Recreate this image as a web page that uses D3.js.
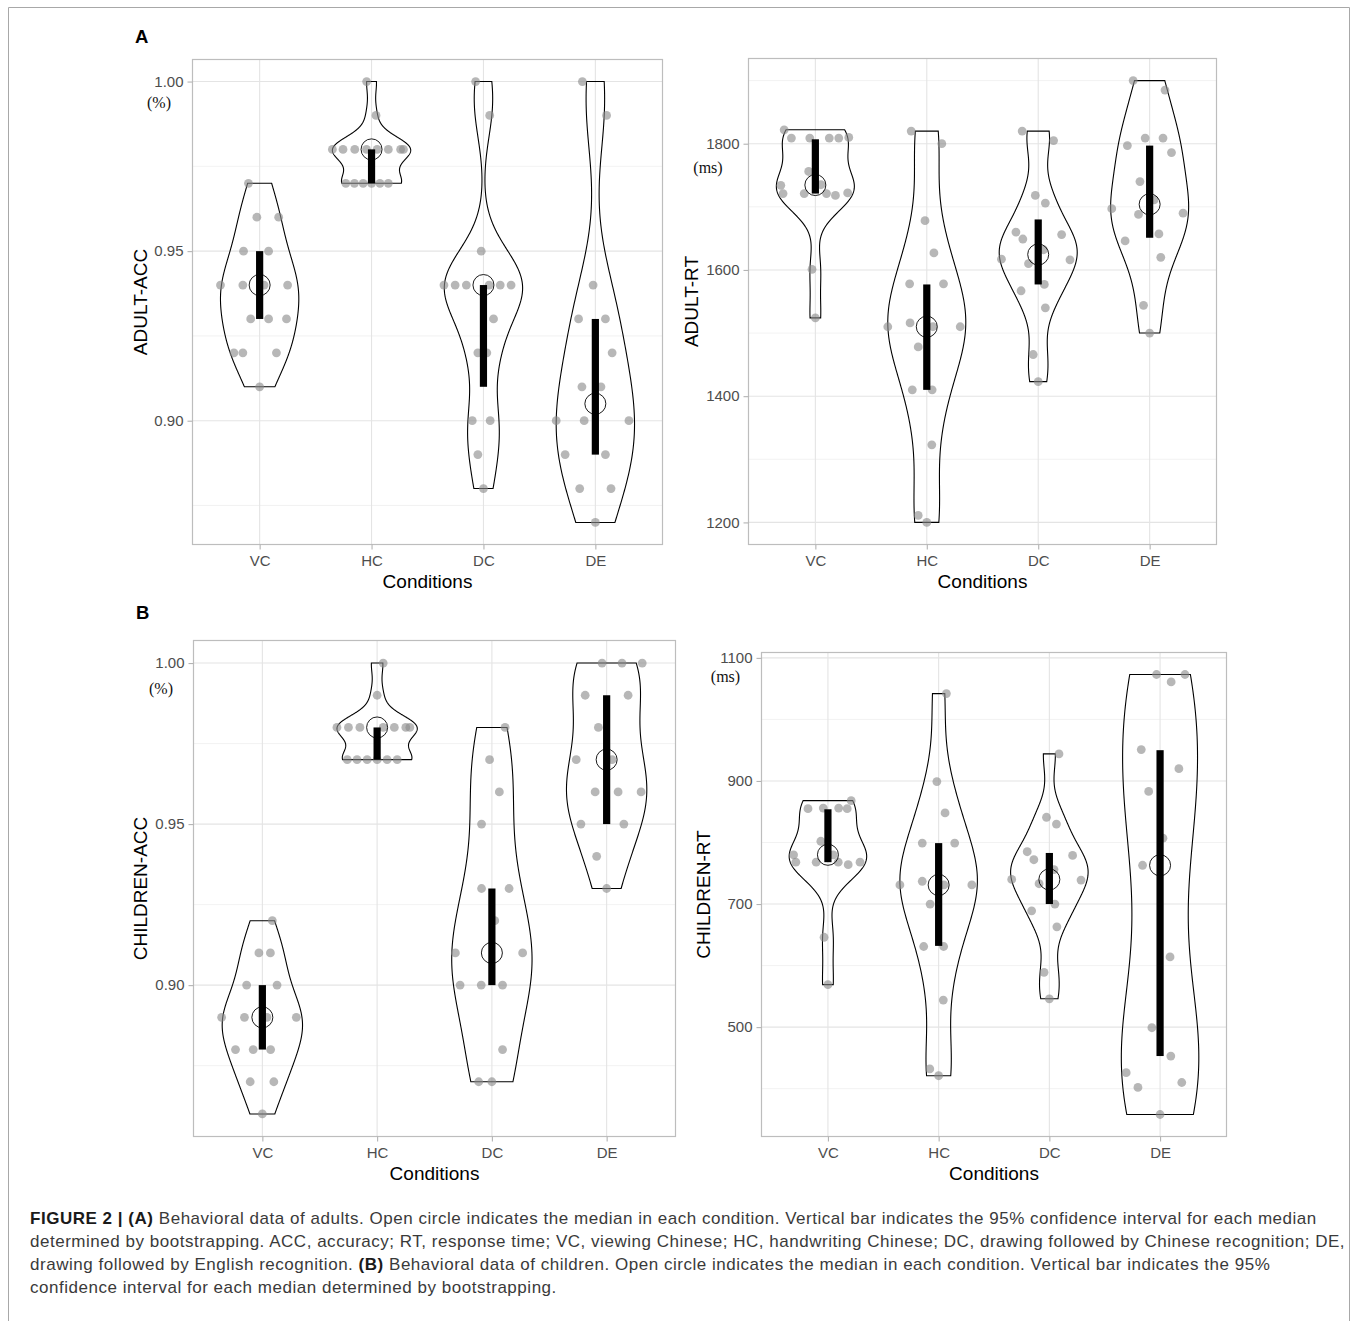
<!DOCTYPE html>
<html><head><meta charset="utf-8">
<script src="https://cdn.jsdelivr.net/npm/d3@7"></script>
<style>body{margin:0;background:#fff}svg{display:block}</style>
</head><body><svg id="c" width="1358" height="1321"></svg>
<script>
// ---------------- DATA ----------------
const categories = ["VC", "HC", "DC", "DE"];

// Adult accuracy
const adultAccVC = [0.97,0.96,0.96,0.95,0.95,0.94,0.94,0.94,0.94,0.93,0.93,0.93,0.92,0.92,0.92,0.91];
const adultAccHC = [1.00,0.99,0.98,0.98,0.98,0.98,0.98,0.98,0.98,0.98,0.97,0.97,0.97,0.97,0.97,0.97];
const adultAccDC = [1.00,0.99,0.95,0.94,0.94,0.94,0.94,0.94,0.94,0.93,0.92,0.92,0.90,0.90,0.89,0.88];
const adultAccDE = [1.00,0.99,0.94,0.93,0.93,0.92,0.91,0.91,0.90,0.90,0.90,0.89,0.89,0.88,0.88,0.87];
const adultAccCI = [[0.93,0.95],[0.97,0.98],[0.91,0.94],[0.89,0.93]];
// horizontal jitter of each point (fraction of category step)
const adultAccJitVC = [-0.10,-0.025,0.17,-0.144,0.08,-0.35,-0.15,0.04,0.25,-0.08,0.08,0.24,-0.23,-0.15,0.15,0];
const adultAccJitHC = [-0.044,0.04,-0.35,-0.255,-0.15,-0.045,0.05,0.15,0.26,0.285,-0.23,-0.153,-0.075,0,0.075,0.15];
const adultAccJitDC = [-0.07,0.056,-0.02,-0.353,-0.253,-0.153,0.05,0.15,0.247,0.09,-0.05,0.03,-0.10,0.06,-0.05,0];
const adultAccJitDE = [-0.116,0.10,-0.02,-0.15,0.09,0.15,-0.12,0.05,-0.35,-0.10,0.30,-0.27,0.09,-0.14,0.14,0];

// Adult response time (ms)
const adultRtVC = [1822,1809,1809,1809,1809,1810,1756,1734,1721,1721,1735,1721,1718,1722,1601,1524];
const adultRtHC = [1820,1800,1678,1627,1578,1578,1510,1516,1510,1510,1478,1410,1410,1323,1211,1200];
const adultRtDC = [1820,1805,1718,1706,1660,1649,1656,1632,1617,1610,1616,1567,1577,1540,1466,1423];
const adultRtDE = [1900,1885,1797,1809,1809,1786,1740,1697,1688,1711,1690,1657,1646,1620,1544,1500];
const adultRtCI = [[1721,1807],[1410,1577],[1577,1680],[1651,1797]];
const adultRtJitVC = [-0.28,-0.215,-0.05,0.125,0.21,0.30,-0.06,-0.31,-0.29,-0.10,0.05,0.10,0.18,0.29,-0.03,0];
const adultRtJitHC = [-0.14,0.135,-0.016,0.064,-0.154,0.15,-0.35,-0.15,0.055,0.30,-0.077,-0.13,0.048,0.045,-0.077,0];
const adultRtJitDC = [-0.144,0.138,-0.026,0.064,-0.2,-0.138,0.21,0.048,-0.33,-0.087,0.285,-0.154,0.055,0.064,-0.045,0];
const adultRtJitDE = [-0.148,0.138,-0.2,-0.04,0.12,0.196,-0.087,-0.34,-0.10,0.04,0.30,0.083,-0.22,0.10,-0.055,0];

// Children accuracy
const childAccVC = [0.92,0.91,0.91,0.90,0.90,0.89,0.89,0.89,0.89,0.88,0.88,0.88,0.87,0.87,0.86];
const childAccHC = [1.00,0.99,0.98,0.98,0.98,0.98,0.98,0.98,0.98,0.97,0.97,0.97,0.97,0.97,0.97];
const childAccDC = [0.98,0.97,0.96,0.95,0.93,0.93,0.92,0.91,0.91,0.90,0.90,0.90,0.88,0.87,0.87];
const childAccDE = [1.00,1.00,1.00,0.99,0.99,0.98,0.97,0.97,0.96,0.96,0.96,0.95,0.95,0.94,0.93];
const childAccCI = [[0.88,0.90],[0.97,0.98],[0.90,0.93],[0.95,0.99]];
const childAccJitVC = [0.087,-0.03,0.07,-0.137,0.128,-0.355,-0.156,0.04,0.296,-0.234,-0.08,0.072,-0.106,0.10,0];
const childAccJitHC = [0.053,0,-0.35,-0.25,-0.15,0.053,0.15,0.25,0.285,-0.26,-0.175,-0.087,0,0.087,0.175];
const childAccJitDC = [0.115,-0.02,0.065,-0.09,-0.09,0.15,0.025,-0.318,0.268,-0.277,-0.093,0.093,0.093,-0.115,0];
const childAccJitDE = [-0.04,0.134,0.31,-0.187,0.187,-0.072,-0.265,0.047,-0.10,0.10,0.30,-0.224,0.15,-0.087,0];

// Children response time (ms)
const childRtVC = [868,855,856,856,855,802,780,768,768,780,768,764,768,646,569];
const childRtHC = [1042,899,848,799,799,731,737,731,731,700,631,631,544,432,421];
const childRtDC = [944,841,830,785,772,779,740,733,756,739,700,689,663,589,546];
const childRtDE = [1073,1061,1073,951,920,883,807,763,614,499,453,426,402,410,358];
const childRtCI = [[768,854],[632,799],[700,783],[453,950]];
const childRtJitVC = [0.21,-0.18,-0.042,0.097,0.174,-0.064,-0.31,-0.29,-0.106,0.048,0.093,0.183,0.29,-0.035,0];
const childRtJitHC = [0.07,-0.016,0.058,-0.148,0.145,-0.35,-0.148,0.048,0.30,-0.077,-0.135,0.045,0.042,-0.08,0];
const childRtJitDC = [0.087,-0.026,0.064,-0.2,-0.14,0.21,-0.34,-0.093,0.042,0.286,0.05,-0.16,0.068,-0.048,0];
const childRtJitDE = [-0.032,0.10,0.225,-0.17,0.17,-0.103,0.026,-0.158,0.09,-0.074,0.097,-0.306,-0.2,0.196,0];

// tick labels
const accMajorTicks = [0.90, 0.95, 1.00];
const accMinorTicks = [0.875, 0.925, 0.975];
const adultRtMajorTicks = [1200, 1400, 1600, 1800];
const adultRtMinorTicks = [1300, 1500, 1700, 1900];
const childRtMajorTicks = [500, 700, 900, 1100];
const childRtMinorTicks = [400, 600, 800, 1000];

const captionLines = [
  [["FIGURE 2 | (A)", true], [" Behavioral data of adults. Open circle indicates the median in each condition. Vertical bar indicates the 95% confidence interval for each median", false]],
  [["determined by bootstrapping. ACC, accuracy; RT, response time; VC, viewing Chinese; HC, handwriting Chinese; DC, drawing followed by Chinese recognition; DE,", false]],
  [["drawing followed by English recognition. ", false], ["(B)", true], [" Behavioral data of children. Open circle indicates the median in each condition. Vertical bar indicates the 95%", false]],
  [["confidence interval for each median determined by bootstrapping.", false]]
];

// ---------------- DRAWING ----------------
const SANS = "'Liberation Sans', Arial, Helvetica, sans-serif";
const SERIF = "'Liberation Serif', 'Times New Roman', serif";
const svg = d3.select("#c");
svg.append("rect").attr("width", 1358).attr("height", 1321).attr("fill", "#fff");
svg.append("path").attr("d", "M8.5,1321V7.5H1349.5V1321")
  .attr("fill", "none").attr("stroke", "#a8a8a8").attr("stroke-width", 1);

function nrd0(v) {
  const s = d3.sort(v);
  const hi = d3.deviation(s);
  const iqr = d3.quantileSorted(s, 0.75) - d3.quantileSorted(s, 0.25);
  let lo = Math.min(hi, iqr / 1.34);
  if (!(lo > 0)) lo = hi || Math.abs(s[0]) || 1;
  return 0.9 * lo * Math.pow(s.length, -0.2);
}
function kde(v) {
  const bw = nrd0(v);
  const [mn, mx] = d3.extent(v);
  const N = 300, pts = [];
  for (let i = 0; i < N; i++) {
    const t = mn + (mx - mn) * i / (N - 1);
    let d = 0;
    for (const x of v) { const z = (t - x) / bw; d += Math.exp(-0.5 * z * z); }
    pts.push({ v: t, d });
  }
  const m = d3.max(pts, p => p.d);
  pts.forEach(p => p.w = p.d / m);
  return pts;
}

function drawPanel(cfg) {
  const g = svg.append("g");
  const all = cfg.series.flat();
  const [mn, mx] = d3.extent(all);
  const pad = (mx - mn) * 0.05;
  const y = d3.scaleLinear().domain([mn - pad, mx + pad]).range([cfg.bottom, cfg.top]);
  const x = d3.scalePoint().domain(categories).range([cfg.left, cfg.right]).padding(0.6);
  const step = x.step();

  // grid
  g.selectAll(".mi").data(cfg.minor).join("line")
    .attr("x1", cfg.left).attr("x2", cfg.right)
    .attr("y1", d => y(d)).attr("y2", d => y(d))
    .attr("stroke", "#efefef").attr("stroke-width", 0.8);
  g.selectAll(".ma").data(cfg.major).join("line")
    .attr("x1", cfg.left).attr("x2", cfg.right)
    .attr("y1", d => y(d)).attr("y2", d => y(d))
    .attr("stroke", "#e4e4e4").attr("stroke-width", 1.1);
  g.selectAll(".vx").data(categories).join("line")
    .attr("x1", d => x(d)).attr("x2", d => x(d))
    .attr("y1", cfg.top).attr("y2", cfg.bottom)
    .attr("stroke", "#e4e4e4").attr("stroke-width", 1.1);

  // violins
  categories.forEach((c, i) => {
    const dens = kde(cfg.series[i]);
    const cx = x(c), half = 0.35 * step;
    const area = d3.area().y(p => y(p.v)).x0(p => cx - p.w * half).x1(p => cx + p.w * half);
    g.append("path").attr("d", area(dens))
      .attr("fill", "none").attr("stroke", "#000").attr("stroke-width", 1.1);
  });
  // points
  categories.forEach((c, i) => {
    const pts = cfg.series[i].map((v, k) => ({ v, j: cfg.jit[i][k] }));
    g.append("g").selectAll("circle").data(pts).join("circle")
      .attr("cx", p => x(c) + p.j * step).attr("cy", p => y(p.v)).attr("r", 4.4)
      .attr("fill", "#8a8a8a").attr("fill-opacity", 0.62);
  });
  // CI bars
  g.selectAll(".ci").data(categories).join("rect")
    .attr("x", d => x(d) - 3.6).attr("width", 7.2)
    .attr("y", (d, i) => y(cfg.ci[i][1]))
    .attr("height", (d, i) => y(cfg.ci[i][0]) - y(cfg.ci[i][1]))
    .attr("fill", "#000");
  // medians
  g.selectAll(".md").data(categories).join("circle")
    .attr("cx", d => x(d)).attr("cy", (d, i) => y(d3.median(cfg.series[i])))
    .attr("r", 10.5).attr("fill", "none").attr("stroke", "#000").attr("stroke-width", 0.9);

  // border
  g.append("rect").attr("x", cfg.left).attr("y", cfg.top)
    .attr("width", cfg.right - cfg.left).attr("height", cfg.bottom - cfg.top)
    .attr("fill", "none").attr("stroke", "#bdbdbd").attr("stroke-width", 1.2);

  // axes
  const ya = g.append("g").attr("transform", `translate(${cfg.left},0)`)
    .call(d3.axisLeft(y).tickValues(cfg.major).tickFormat(cfg.fmt).tickSize(5).tickPadding(4));
  const xa = g.append("g").attr("transform", `translate(0,${cfg.bottom})`)
    .call(d3.axisBottom(x).tickSize(5).tickPadding(4));
  [ya, xa].forEach(a => {
    a.select(".domain").remove();
    a.selectAll(".tick line").attr("stroke", "#b3b3b3").attr("stroke-width", 1.1);
    a.selectAll(".tick text").attr("fill", "#4d4d4d").attr("font-size", 15).attr("font-family", SANS);
  });
  xa.selectAll(".tick text").attr("dy", null).attr("y", 21.4);

  // titles
  g.append("text").attr("x", (cfg.left + cfg.right) / 2).attr("y", cfg.bottom + 43.3)
    .attr("text-anchor", "middle").attr("font-family", SANS).attr("font-size", 19)
    .attr("fill", "#000").text("Conditions");
  g.append("text").attr("transform", `translate(${cfg.titleX},${(cfg.top + cfg.bottom) / 2}) rotate(-90)`)
    .attr("text-anchor", "middle").attr("font-family", SANS).attr("font-size", 19)
    .attr("fill", "#000").text(cfg.title);
  g.append("text").attr("x", cfg.unitX).attr("y", cfg.unitY).attr("text-anchor", "middle")
    .attr("font-family", SERIF).attr("font-size", 16).attr("fill", "#111").text(cfg.unit);
}

drawPanel({ left: 192.5, right: 662.5, top: 59.5, bottom: 544.5, title: "ADULT-ACC", titleX: 146.5,
  series: [adultAccVC, adultAccHC, adultAccDC, adultAccDE],
  jit: [adultAccJitVC, adultAccJitHC, adultAccJitDC, adultAccJitDE],
  ci: adultAccCI, major: accMajorTicks, minor: accMinorTicks, fmt: d3.format(".2f"),
  unit: "(%)", unitX: 159, unitY: 107.5 });
drawPanel({ left: 748.5, right: 1216.5, top: 58.5, bottom: 544.5, title: "ADULT-RT", titleX: 697.5,
  series: [adultRtVC, adultRtHC, adultRtDC, adultRtDE],
  jit: [adultRtJitVC, adultRtJitHC, adultRtJitDC, adultRtJitDE],
  ci: adultRtCI, major: adultRtMajorTicks, minor: adultRtMinorTicks, fmt: d3.format("d"),
  unit: "(ms)", unitX: 708, unitY: 172.5 });
drawPanel({ left: 193.5, right: 675.5, top: 640.5, bottom: 1136.5, title: "CHILDREN-ACC", titleX: 146.5,
  series: [childAccVC, childAccHC, childAccDC, childAccDE],
  jit: [childAccJitVC, childAccJitHC, childAccJitDC, childAccJitDE],
  ci: childAccCI, major: accMajorTicks, minor: accMinorTicks, fmt: d3.format(".2f"),
  unit: "(%)", unitX: 161, unitY: 694 });
drawPanel({ left: 761.5, right: 1226.5, top: 652.5, bottom: 1136.5, title: "CHILDREN-RT", titleX: 710,
  series: [childRtVC, childRtHC, childRtDC, childRtDE],
  jit: [childRtJitVC, childRtJitHC, childRtJitDC, childRtJitDE],
  ci: childRtCI, major: childRtMajorTicks, minor: childRtMinorTicks, fmt: d3.format("d"),
  unit: "(ms)", unitX: 725.5, unitY: 682 });

// panel letters
svg.append("text").attr("x", 135).attr("y", 43.3).attr("font-family", SANS).attr("font-weight", "bold")
  .attr("font-size", 18.5).attr("fill", "#000").text("A");
svg.append("text").attr("x", 136).attr("y", 619).attr("font-family", SANS).attr("font-weight", "bold")
  .attr("font-size", 18.5).attr("fill", "#000").text("B");

// caption
const capX = 30, capBase = [1224, 1247, 1270, 1293];
const capEnds = [1324, 1338];
const capTexts = captionLines.map((line, i) => {
  const t = svg.append("text").attr("x", capX).attr("y", capBase[i])
    .attr("font-family", SANS).attr("font-size", 17).attr("fill", "#3a3a3a");
  line.forEach(([s, b]) => t.append("tspan").attr("font-weight", b ? "bold" : null)
    .attr("fill", b ? "#1a1a1a" : null).text(s));
  return t;
});
let lsSum = 0;
[0, 1].forEach(i => {
  const w = capTexts[i].node().getComputedTextLength();
  const n = captionLines[i].map(d => d[0]).join("").length;
  lsSum += (capEnds[i] - capX - w) / n;
});
const ls = lsSum / 2;
capTexts.forEach(t => t.attr("letter-spacing", ls.toFixed(3)));
</script></body></html>
